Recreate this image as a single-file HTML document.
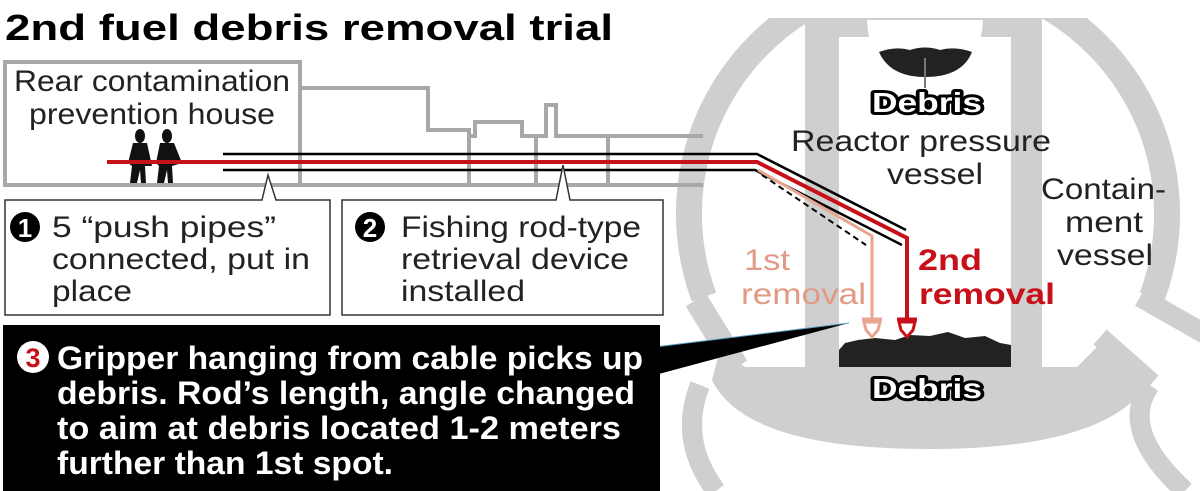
<!DOCTYPE html>
<html><head><meta charset="utf-8"><style>
html,body{margin:0;padding:0;background:#fff;}
svg{display:block;font-family:"Liberation Sans",sans-serif;}
</style></head><body>
<svg width="1200" height="491" viewBox="0 0 1200 491" xmlns="http://www.w3.org/2000/svg">
<!-- background gray vessel -->
<g fill="none" stroke="#cfcfcf">
  <path d="M704 297 A239 239 0 1 1 1152 297" stroke-width="26"/>
  <path d="M696 300 L737 367" stroke-width="24"/>
  <path d="M1140 297 L1205 334" stroke-width="20"/>
  <path d="M1100 337 L1152 383" stroke-width="20"/>
  <path d="M700 385 Q678 440 716 491" stroke-width="20"/>
  <path d="M1150 385 Q1118 430 1185 491" stroke-width="20"/>
</g>
<g fill="#cfcfcf">
  <path d="M720 350 L745 367 L1077 367 L1107 337 L1150 380 Q1110 449 928 449 Q745 449 712 380 Z"/>
  <rect x="805" y="17" width="237" height="350"/>
</g>
<rect x="680" y="0" width="520" height="18" fill="#fff"/>
<rect x="839" y="37" width="172" height="330" fill="#fff"/>
<!-- RPV top -->
<path d="M867 20 L983 20 Q980 80 925 80 Q870 80 867 20 Z" fill="#fff"/>
<path d="M879 52 Q895 46 910 50 Q925 45 940 50 Q955 46 972 52 Q962 77 925 77 Q890 77 879 52 Z" fill="#222"/>
<line x1="925" y1="58" x2="925" y2="88" stroke="#777" stroke-width="2"/>
<!-- bottom debris -->
<path d="M839 350 L845 343 L858 340 L875 338 L895 340 L910 335 L930 336 L948 332 L965 338 L985 336 L1000 343 L1011 345 L1011 367 L839 367 Z" fill="#222"/>

<!-- building outline -->
<g fill="none" stroke="#a8a8a8" stroke-width="4">
  <path d="M5 62 L300 62 L300 185 L5 185 Z"/>
  <path d="M300 88 L428 88 L428 130 L469 130 L469 136 L475 136 L475 122 L522 122 L522 136 L546 136 L546 105 L556 105 L556 136 L703 136"/>
  <path d="M300 185 L703 185"/>
  <path d="M469 136 L469 185 M536 136 L536 185 M608 136 L608 185"/>
</g>
<!-- pipes -->
<g fill="none">
  <path d="M223 154 L757 154 L906 230" stroke="#000" stroke-width="2.5"/>
  <path d="M223 170 L755 170 L902 245" stroke="#000" stroke-width="2.5"/>
  <path d="M762 175 L866 245" stroke="#000" stroke-width="2" stroke-dasharray="6,4"/>
  <path d="M758 170 L872 236 L872 320" stroke="#e8a592" stroke-width="3"/>
  <path d="M107 162 L757 162 L907 238 L907 320" stroke="#c8101a" stroke-width="4"/>
</g>
<!-- grippers -->
<g fill="none" stroke-width="3">
  <path d="M862 319 L882 319 M864 322 L880 322 L878 330 L872 337 L866 330 Z" stroke="#e8a592"/>
  <path d="M897 319 L917 319 M899 322 L915 322 L913 330 L907 337 L901 330 Z" stroke="#c8101a"/>
</g>
<!-- people -->
<g fill="#111">
  <ellipse cx="140" cy="136" rx="5" ry="7"/>
  <path d="M133 143 L147 143 L152 166 L145 166 L146 183 L141 183 L140 170 L137 183 L130 183 L132 166 L128 163 Z"/>
  <ellipse cx="167" cy="136" rx="5" ry="7"/>
  <path d="M160 143 L174 143 L182 163 L172 166 L173 183 L168 183 L167 170 L164 183 L157 183 L159 166 L156 163 Z"/>
</g>
<rect x="107" y="160" width="80" height="4" fill="#c8101a"/>

<!-- label boxes -->
<g fill="#fff" stroke="#333" stroke-width="1.5">
  <path d="M5 200 L262 200 L268 175 L276 200 L330 200 L330 315 L5 315 Z"/>
  <path d="M342 200 L556 200 L563 165 L570 200 L663 200 L663 315 L342 315 Z"/>
</g>
<!-- black box & callout -->
<path d="M655 347 L849 323 L655 375 Z" fill="#000"/>
<line x1="655" y1="347" x2="849" y2="323" stroke="#5aa0c0" stroke-width="1"/>
<rect x="3" y="325" width="657" height="166" fill="#000"/>

<!-- text -->
<text x="5" y="40" font-size="36" font-weight="bold" textLength="608" lengthAdjust="spacingAndGlyphs">2nd fuel debris removal trial</text>
<g font-size="30" fill="#222">
<text x="14" y="91" textLength="276" lengthAdjust="spacingAndGlyphs">Rear contamination</text>
<text x="29" y="124" textLength="246" lengthAdjust="spacingAndGlyphs">prevention house</text>
<text x="52" y="237" textLength="224" lengthAdjust="spacingAndGlyphs">5 “push pipes”</text>
<text x="52" y="269" textLength="258" lengthAdjust="spacingAndGlyphs">connected, put in</text>
<text x="52" y="301" textLength="80" lengthAdjust="spacingAndGlyphs">place</text>
<text x="401" y="237" textLength="240" lengthAdjust="spacingAndGlyphs">Fishing rod-type</text>
<text x="401" y="269" textLength="228" lengthAdjust="spacingAndGlyphs">retrieval device</text>
<text x="401" y="301" textLength="124" lengthAdjust="spacingAndGlyphs">installed</text>
<text x="791" y="151" textLength="260" lengthAdjust="spacingAndGlyphs">Reactor pressure</text>
<text x="887" y="184" textLength="96" lengthAdjust="spacingAndGlyphs">vessel</text>
<text x="1041" y="199" textLength="125" lengthAdjust="spacingAndGlyphs">Contain-</text>
<text x="1065" y="232" textLength="78" lengthAdjust="spacingAndGlyphs">ment</text>
<text x="1057" y="265" textLength="96" lengthAdjust="spacingAndGlyphs">vessel</text>
</g>
<g font-size="30" fill="#e09a86">
<text x="744" y="270" textLength="46" lengthAdjust="spacingAndGlyphs">1st</text>
<text x="741" y="304" textLength="125" lengthAdjust="spacingAndGlyphs">removal</text>
</g>
<g font-size="30" fill="#c8101a" font-weight="bold">
<text x="918" y="270" textLength="64" lengthAdjust="spacingAndGlyphs">2nd</text>
<text x="919" y="304" textLength="136" lengthAdjust="spacingAndGlyphs">removal</text>
</g>
<g font-size="28" font-weight="bold" fill="#fff" stroke="#000" stroke-width="6" paint-order="stroke" stroke-linejoin="round">
<text x="872" y="112" textLength="110" lengthAdjust="spacingAndGlyphs">Debris</text>
<text x="872" y="398" textLength="110" lengthAdjust="spacingAndGlyphs">Debris</text>
</g>
<!-- numbered circles -->
<circle cx="25" cy="227" r="15" fill="#000"/>
<text x="25" y="237" font-size="26" font-weight="bold" fill="#fff" text-anchor="middle">1</text>
<circle cx="370" cy="227" r="15" fill="#000"/>
<text x="370" y="237" font-size="26" font-weight="bold" fill="#fff" text-anchor="middle">2</text>
<circle cx="33" cy="357" r="16" fill="#fff"/>
<text x="33" y="367" font-size="27" font-weight="bold" fill="#c8101a" text-anchor="middle">3</text>
<g font-size="32" font-weight="bold" fill="#fff">
<text x="57" y="369" textLength="586" lengthAdjust="spacingAndGlyphs">Gripper hanging from cable picks up</text>
<text x="57" y="404" textLength="578" lengthAdjust="spacingAndGlyphs">debris. Rod’s length, angle changed</text>
<text x="57" y="439" textLength="564" lengthAdjust="spacingAndGlyphs">to aim at debris located 1-2 meters</text>
<text x="57" y="474" textLength="336" lengthAdjust="spacingAndGlyphs">further than 1st spot.</text>
</g>
</svg>
</body></html>
